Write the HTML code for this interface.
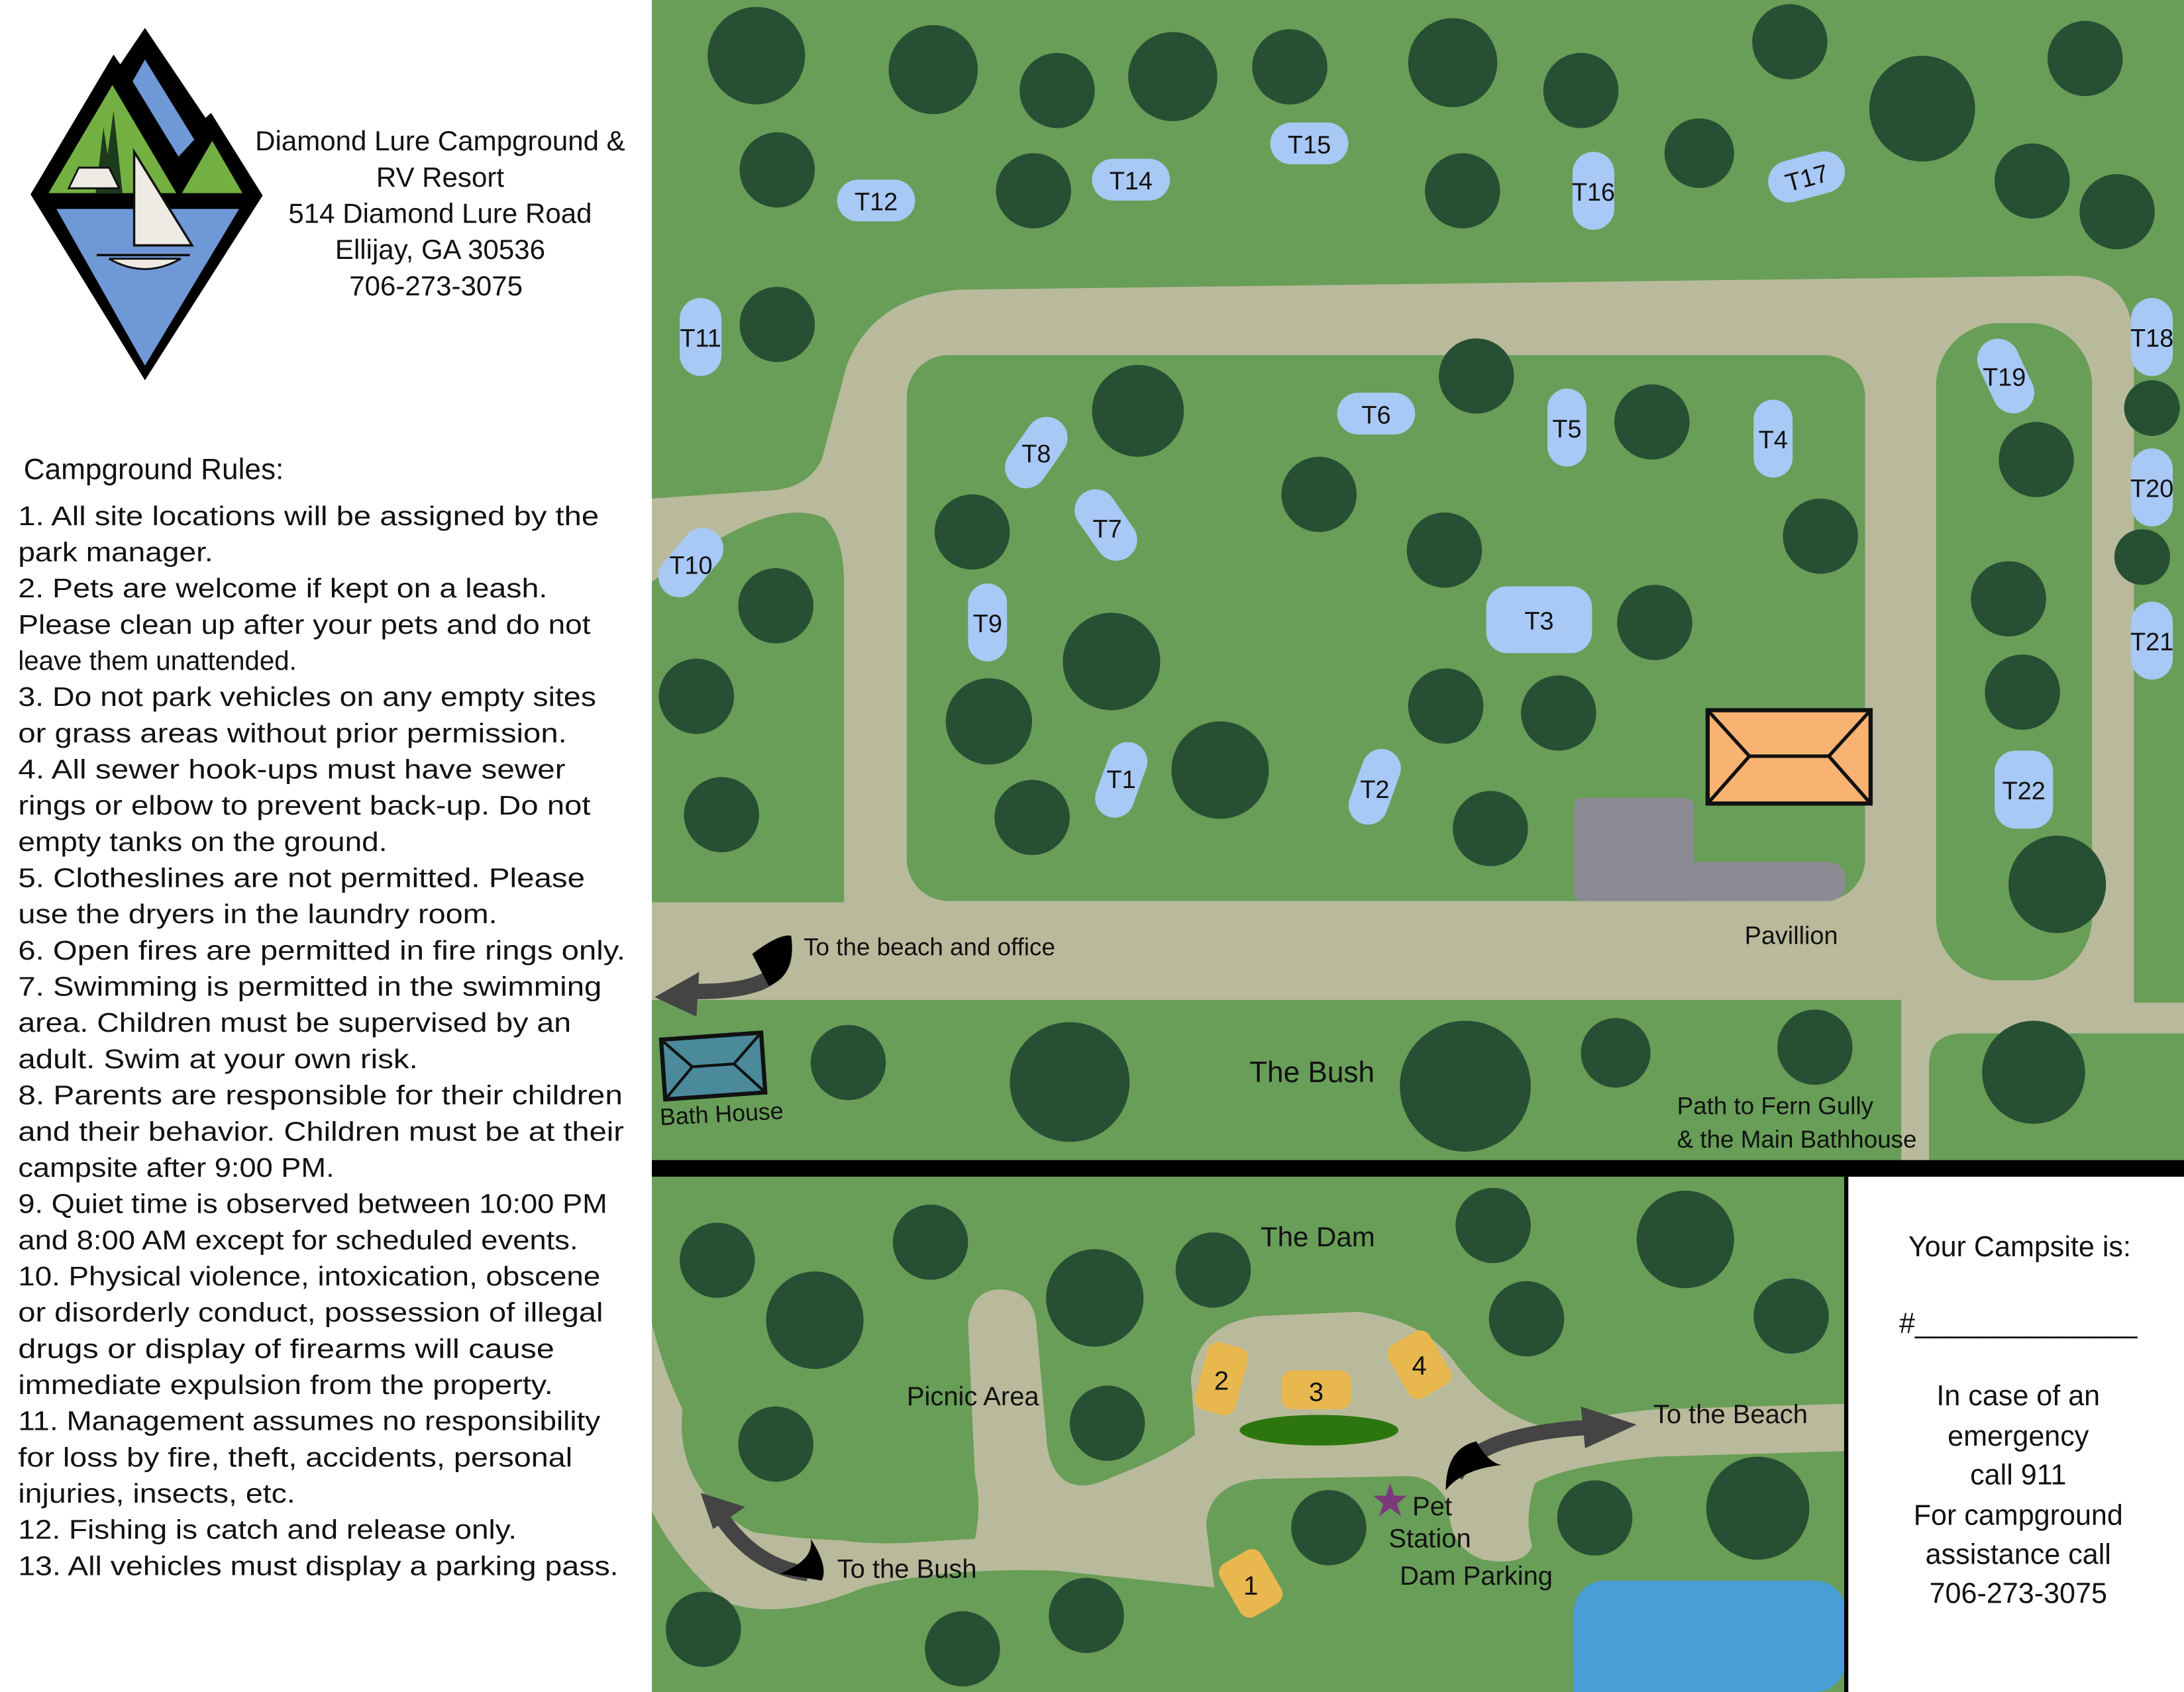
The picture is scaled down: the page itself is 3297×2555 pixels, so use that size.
<!DOCTYPE html>
<html><head><meta charset="utf-8"><style>
html,body{margin:0;padding:0;background:#fff;}
svg{display:block;}
text{font-family:"Liberation Sans",sans-serif;fill:#111;}
</style></head><body>
<svg width="3297" height="2555" viewBox="0 0 1568 1215" preserveAspectRatio="none" xmlns="http://www.w3.org/2000/svg">
<rect width="1568" height="1215" fill="#fff"/>

<!-- LOGO -->
<g transform="translate(-2.2,11.3) scale(0.161,0.1745)">
<polygon points="150,735 520,160 550,200 660,50 930,420 955,400 1185,740 660,1500" fill="#000"/>
<polygon points="230,730 515,285 800,730" fill="#73b041"/>
<polygon points="605,270 660,180 880,510 810,580" fill="#6f98d6"/>
<polygon points="825,730 960,515 1095,730" fill="#73b041"/>
<polygon points="265,795 1080,795 660,1440" fill="#6f98d6"/>
<polygon points="470,730 520,390 560,730" fill="#1d3a1d"/>
<polygon points="440,730 475,460 520,730" fill="#1d3a1d"/>
<polygon points="320,710 365,625 500,625 545,710" fill="#eeeae4" stroke="#111" stroke-width="8"/>
<polygon points="612,560 612,945 870,945" fill="#eeeae4" stroke="#111" stroke-width="10"/>
<path d="M445,985 H860" stroke="#111" stroke-width="10"/>
<path d="M500,1000 Q660,1085 820,1000 Z" fill="#eeeae4" stroke="#111" stroke-width="8"/>
</g>

<g font-size="20" text-anchor="middle">
<text x="316" y="108">Diamond Lure Campground &amp;</text>
<text x="316" y="134">RV Resort</text>
<text x="316" y="160">514 Diamond Lure Road</text>
<text x="316" y="186">Ellijay, GA 30536</text>
<text x="313" y="212">706-273-3075</text>
</g>

<text x="17" y="344" font-size="21">Campground Rules:</text>
<g font-size="19.5" lengthAdjust="spacingAndGlyphs">
<text x="13" y="377" textLength="417" lengthAdjust="spacingAndGlyphs">1.  All site locations will be assigned by the</text>
<text x="13" y="403" textLength="140" lengthAdjust="spacingAndGlyphs">park manager.</text>
<text x="13" y="429" textLength="380" lengthAdjust="spacingAndGlyphs">2.  Pets are welcome if kept on a leash.</text>
<text x="13" y="455" textLength="411" lengthAdjust="spacingAndGlyphs">Please clean up after your pets and do not</text>
<text x="13" y="481" textLength="200" lengthAdjust="spacingAndGlyphs">leave them unattended.</text>
<text x="13" y="507" textLength="415" lengthAdjust="spacingAndGlyphs">3.  Do not park vehicles on any empty sites</text>
<text x="13" y="533" textLength="394" lengthAdjust="spacingAndGlyphs">or grass areas without prior permission.</text>
<text x="13" y="559" textLength="393" lengthAdjust="spacingAndGlyphs">4.  All sewer hook-ups must have sewer</text>
<text x="13" y="585" textLength="411" lengthAdjust="spacingAndGlyphs">rings or elbow to prevent back-up.  Do not</text>
<text x="13" y="611" textLength="265" lengthAdjust="spacingAndGlyphs">empty tanks on the ground.</text>
<text x="13" y="637" textLength="407" lengthAdjust="spacingAndGlyphs">5.  Clotheslines are not permitted.  Please</text>
<text x="13" y="663" textLength="344" lengthAdjust="spacingAndGlyphs">use the dryers in the laundry room.</text>
<text x="13" y="689" textLength="436" lengthAdjust="spacingAndGlyphs">6.  Open fires are permitted in fire rings only.</text>
<text x="13" y="715" textLength="419" lengthAdjust="spacingAndGlyphs">7.  Swimming is permitted in the swimming</text>
<text x="13" y="741" textLength="397" lengthAdjust="spacingAndGlyphs">area.  Children must be supervised by an</text>
<text x="13" y="767" textLength="287" lengthAdjust="spacingAndGlyphs">adult.  Swim at your own risk.</text>
<text x="13" y="793" textLength="434" lengthAdjust="spacingAndGlyphs">8.  Parents are responsible for their children</text>
<text x="13" y="819" textLength="435" lengthAdjust="spacingAndGlyphs">and their behavior.  Children must be at their</text>
<text x="13" y="845" textLength="227" lengthAdjust="spacingAndGlyphs">campsite after 9:00 PM.</text>
<text x="13" y="871" textLength="423" lengthAdjust="spacingAndGlyphs">9.  Quiet time is observed between 10:00 PM</text>
<text x="13" y="897" textLength="402" lengthAdjust="spacingAndGlyphs">and 8:00 AM except for scheduled events.</text>
<text x="13" y="923" textLength="418" lengthAdjust="spacingAndGlyphs">10.  Physical violence, intoxication, obscene</text>
<text x="13" y="949" textLength="420" lengthAdjust="spacingAndGlyphs">or disorderly conduct, possession of illegal</text>
<text x="13" y="975" textLength="385" lengthAdjust="spacingAndGlyphs">drugs or display of firearms will cause</text>
<text x="13" y="1001" textLength="384" lengthAdjust="spacingAndGlyphs">immediate expulsion from the property.</text>
<text x="13" y="1027" textLength="418" lengthAdjust="spacingAndGlyphs">11.  Management assumes no responsibility</text>
<text x="13" y="1053" textLength="398" lengthAdjust="spacingAndGlyphs">for loss by fire, theft, accidents, personal</text>
<text x="13" y="1079" textLength="199" lengthAdjust="spacingAndGlyphs">injuries, insects, etc.</text>
<text x="13" y="1105" textLength="358" lengthAdjust="spacingAndGlyphs">12.  Fishing is catch and release only.</text>
<text x="13" y="1131" textLength="431" lengthAdjust="spacingAndGlyphs">13.  All vehicles must display a parking pass.</text>
</g>

<!-- TOP MAP -->
<rect x="468" y="0" width="1100" height="833" fill="#b9ba9b"/>
<g fill="#689e58">
<path d="M468,0 H1568 V720 H1532 V245 Q1530,200 1490,198 L690,208 Q628,212 608,262 L590,330 Q580,350 555,352 L468,358 Z"/>
<path d="M468,418 Q490,400 520,385 Q565,360 592,372 Q606,385 606,420 L606,648 L468,648 Z"/>
<rect x="651" y="255" width="688" height="392" rx="30"/>
<rect x="1390" y="232" width="112" height="472" rx="45"/>
<rect x="468" y="718" width="897" height="115"/>
<path d="M1385,833 V765 Q1385,742 1410,742 H1568 V833 Z"/>
</g>
<rect x="1130" y="573" width="86" height="74" rx="6" fill="#8c8b94"/>
<rect x="1130" y="619" width="195" height="28" rx="12" fill="#8c8b94"/>

<g fill="#274f33">
<circle cx="543" cy="40" r="35"/><circle cx="670" cy="50" r="32"/><circle cx="759" cy="65" r="27"/><circle cx="842" cy="55" r="32"/><circle cx="926" cy="48" r="27"/><circle cx="1043" cy="45" r="32"/><circle cx="1135" cy="65" r="27"/><circle cx="1220" cy="110" r="25"/><circle cx="1285" cy="30" r="27"/><circle cx="1380" cy="78" r="38"/><circle cx="1497" cy="42" r="27"/><circle cx="558" cy="122" r="27"/><circle cx="742" cy="137" r="27"/><circle cx="1050" cy="137" r="27"/><circle cx="1459" cy="130" r="27"/><circle cx="1520" cy="152" r="27"/>
<circle cx="558" cy="233" r="27"/><circle cx="817" cy="295" r="33"/><circle cx="1060" cy="270" r="27"/><circle cx="1186" cy="303" r="27"/><circle cx="947" cy="355" r="27"/><circle cx="1037" cy="395" r="27"/><circle cx="1307" cy="385" r="27"/><circle cx="1462" cy="330" r="27"/><circle cx="1545" cy="293" r="20"/><circle cx="698" cy="382" r="27"/><circle cx="557" cy="435" r="27"/><circle cx="1188" cy="447" r="27"/><circle cx="1442" cy="430" r="27"/><circle cx="1538" cy="400" r="20"/><circle cx="500" cy="500" r="27"/><circle cx="710" cy="518" r="31"/><circle cx="798" cy="475" r="35"/><circle cx="1038" cy="507" r="27"/><circle cx="1119" cy="512" r="27"/><circle cx="1452" cy="497" r="27"/><circle cx="876" cy="553" r="35"/><circle cx="518" cy="585" r="27"/><circle cx="741" cy="587" r="27"/><circle cx="1070" cy="595" r="27"/><circle cx="1477" cy="635" r="35"/>
<circle cx="609" cy="763" r="27"/><circle cx="768" cy="777" r="43"/><circle cx="1052" cy="780" r="47"/><circle cx="1160" cy="756" r="25"/><circle cx="1303" cy="752" r="27"/><circle cx="1460" cy="770" r="37"/>
</g>

<!-- pavilion -->
<rect x="1226" y="510" width="117" height="67" fill="#f8b271" stroke="#111" stroke-width="3"/>
<path d="M1226,510 L1256,543 L1226,577 M1343,510 L1313,543 L1343,577 M1256,543 H1313" stroke="#111" stroke-width="2.5" fill="none"/>
<text x="1286" y="678" font-size="18" text-anchor="middle">Pavillion</text>
<!-- bath house -->
<g transform="rotate(-4 512 765)">
<rect x="476" y="744" width="72" height="43" fill="#4a8a9a" stroke="#111" stroke-width="3"/>
<path d="M476,744 L497,765 L476,787 M548,744 L527,765 L548,787 M497,765 H527" stroke="#111" stroke-width="2" fill="none"/>
</g>
<text x="474" y="808" font-size="17" transform="rotate(-3 474 808)">Bath House</text>

<!-- sites -->
<g fill="#a8c8f5" font-size="18">
<g transform="translate(940,103)"><rect x="-28" y="-15" width="56" height="30" rx="15"/><text y="7" text-anchor="middle">T15</text></g>
<g transform="translate(812,129)"><rect x="-28" y="-15" width="56" height="30" rx="15"/><text y="7" text-anchor="middle">T14</text></g>
<g transform="translate(629,144)"><rect x="-28" y="-15" width="56" height="30" rx="15"/><text y="7" text-anchor="middle">T12</text></g>
<g transform="translate(1144,137)"><rect x="-15" y="-28" width="30" height="56" rx="15"/><text y="7" text-anchor="middle">T16</text></g>
<g transform="translate(1297,127) rotate(-15)"><rect x="-28" y="-15" width="56" height="30" rx="15"/><text y="7" text-anchor="middle">T17</text></g>
<g transform="translate(503,242)"><rect x="-15" y="-28" width="30" height="56" rx="15"/><text y="7" text-anchor="middle">T11</text></g>
<g transform="translate(1545,242)"><rect x="-15" y="-28" width="30" height="56" rx="15"/><text y="7" text-anchor="middle">T18</text></g>
<g transform="translate(1440,270) rotate(-25)"><rect x="-15" y="-28" width="30" height="56" rx="15"/></g><text x="1439" y="277" text-anchor="middle">T19</text>
<g transform="translate(988,297)"><rect x="-28" y="-15" width="56" height="30" rx="15"/><text y="7" text-anchor="middle">T6</text></g>
<g transform="translate(1125,307)"><rect x="-14" y="-28" width="28" height="56" rx="14"/><text y="7" text-anchor="middle">T5</text></g>
<g transform="translate(1273,315)"><rect x="-14" y="-28" width="28" height="56" rx="14"/><text y="7" text-anchor="middle">T4</text></g>
<g transform="translate(744,325) rotate(-55)"><rect x="-28" y="-15" width="56" height="30" rx="15"/></g><text x="744" y="332" text-anchor="middle">T8</text>
<g transform="translate(794,377) rotate(55)"><rect x="-28" y="-15" width="56" height="30" rx="15"/></g><text x="795" y="386" text-anchor="middle">T7</text>
<g transform="translate(496,404) rotate(-50)"><rect x="-28" y="-15" width="56" height="30" rx="15"/></g><text x="496" y="412" text-anchor="middle">T10</text>
<g transform="translate(709,447)"><rect x="-14" y="-28" width="28" height="56" rx="14"/><text y="7" text-anchor="middle">T9</text></g>
<g transform="translate(1105,445)"><rect x="-38" y="-24" width="76" height="48" rx="15"/><text y="7" text-anchor="middle">T3</text></g>
<g transform="translate(1545,350)"><rect x="-15" y="-28" width="30" height="56" rx="15"/><text y="7" text-anchor="middle">T20</text></g>
<g transform="translate(1545,460)"><rect x="-15" y="-28" width="30" height="56" rx="15"/><text y="7" text-anchor="middle">T21</text></g>
<g transform="translate(805,560) rotate(20)"><rect x="-14" y="-28" width="28" height="56" rx="14"/></g><text x="805" y="566" text-anchor="middle">T1</text>
<g transform="translate(987,565) rotate(20)"><rect x="-14" y="-28" width="28" height="56" rx="14"/></g><text x="987" y="573" text-anchor="middle">T2</text>
<g transform="translate(1453,567)"><rect x="-21" y="-28" width="42" height="56" rx="15"/><text y="7" text-anchor="middle">T22</text></g>
</g>

<!-- top labels -->
<text x="577" y="686" font-size="17.5">To the beach and office</text>
<text x="897" y="777" font-size="21">The Bush</text>
<text x="1204" y="800" font-size="17.5">Path to Fern Gully</text>
<text x="1204" y="824" font-size="17.5">&amp; the Main Bathhouse</text>
<!-- arrow top-left -->
<path d="M560,678 Q570,712 500,712" stroke="#444" stroke-width="11" fill="none"/>
<path d="M540,685 Q560,670 568,672 Q572,700 552,708 Z" fill="#000"/>
<polygon points="470,716 502,698 500,730" fill="#444"/>

<!-- divider -->
<rect x="468" y="833" width="1100" height="12" fill="#000"/>

<!-- BOTTOM MAP -->
<rect x="468" y="845" width="857" height="370" fill="#689e58"/>
<g fill="#b9ba9b">
<path d="M468,950 C480,1000 505,1050 540,1080 C560,1100 600,1110 650,1108 L700,1105 Q705,1080 700,1060 L695,950 Q698,925 720,926 Q742,928 744,950 L752,1040 Q760,1080 800,1060 Q840,1045 858,1030 L855,990 Q860,950 905,945 L975,942 Q1020,948 1042,975 Q1070,1015 1110,1025 Q1150,1015 1190,1012 L1325,1008 L1325,1042 L1190,1046 Q1125,1052 1102,1065 Q1094,1090 1100,1110 Q1095,1125 1065,1120 Q1040,1112 1040,1080 Q1030,1060 1010,1060 L905,1062 Q868,1065 866,1095 Q870,1128 872,1140 L760,1128 Q680,1125 620,1140 Q560,1165 520,1150 Q485,1120 468,1085 Z"/>
</g>
<path d="M490,1012 Q484,1070 540,1100 Q600,1110 690,1105 L692,1030 Q680,1012 648,1012 Z" fill="#689e58"/>
<rect x="1130" y="1135" width="195" height="80" rx="22" fill="#4a9ed6"/>
<path d="M1130,1160 V1215 H1160 Z" fill="#4a9ed6"/>
<g fill="#274f33">
<circle cx="515" cy="905" r="27"/><circle cx="668" cy="892" r="27"/><circle cx="585" cy="948" r="35"/><circle cx="786" cy="932" r="35"/><circle cx="871" cy="912" r="27"/><circle cx="1072" cy="880" r="27"/><circle cx="1210" cy="890" r="35"/><circle cx="1096" cy="947" r="27"/><circle cx="1286" cy="945" r="27"/><circle cx="795" cy="1022" r="27"/><circle cx="557" cy="1037" r="27"/><circle cx="954" cy="1097" r="27"/><circle cx="1145" cy="1090" r="27"/><circle cx="1262" cy="1083" r="37"/><circle cx="505" cy="1170" r="27"/><circle cx="691" cy="1184" r="27"/><circle cx="780" cy="1160" r="27"/>
</g>
<ellipse cx="947" cy="1027" rx="57" ry="11" fill="#2d760f"/>
<g fill="#e8b84f" font-size="19">
<g transform="translate(898,1137) rotate(-30)"><rect x="-17" y="-22" width="34" height="44" rx="8"/></g><text x="898" y="1145" text-anchor="middle">1</text>
<g transform="translate(877,990) rotate(15)"><rect x="-15" y="-25" width="30" height="50" rx="8"/></g><text x="877" y="998" text-anchor="middle">2</text>
<g transform="translate(945,998)"><rect x="-25" y="-14" width="50" height="28" rx="8"/></g><text x="945" y="1006" text-anchor="middle">3</text>
<g transform="translate(1019,980) rotate(-30)"><rect x="-17" y="-22" width="34" height="44" rx="8"/></g><text x="1019" y="987" text-anchor="middle">4</text>
</g>
<polygon points="998,1065 1001,1074 1010,1074 1003,1080 1006,1089 998,1083 990,1089 993,1080 986,1074 995,1074" fill="#7a3a7a"/>

<g font-size="19">
<text x="905" y="895" font-size="20">The Dam</text>
<text x="651" y="1009">Picnic Area</text>
<text x="1187" y="1022">To the Beach</text>
<text x="1014" y="1088">Pet</text>
<text x="997" y="1111">Station</text>
<text x="1005" y="1138">Dam Parking</text>
<text x="601" y="1133">To the Bush</text>
</g>
<!-- arrows bottom -->
<path d="M580,1130 Q540,1125 515,1085" stroke="#444" stroke-width="11" fill="none"/>
<polygon points="503,1072 535,1082 512,1098" fill="#444"/>
<path d="M560,1130 Q585,1120 582,1105 Q595,1125 590,1135 Z" fill="#000"/>
<path d="M1045,1060 Q1060,1030 1140,1025" stroke="#444" stroke-width="11" fill="none"/>
<polygon points="1175,1023 1135,1010 1138,1040" fill="#444"/>
<path d="M1038,1070 Q1038,1040 1060,1035 Q1068,1050 1078,1052 Q1050,1055 1038,1070 Z" fill="#000"/>

<!-- right panel -->
<rect x="1325" y="845" width="243" height="370" fill="#fff"/>
<rect x="1324" y="845" width="3" height="370" fill="#000"/>
<g font-size="20.5" text-anchor="middle">
<text x="1450" y="902">Your Campsite is:</text>
<text x="1449" y="957">#______________</text>
<text x="1449" y="1009">In case of an</text>
<text x="1449" y="1038">emergency</text>
<text x="1449" y="1066">call 911</text>
<text x="1449" y="1095">For campground</text>
<text x="1449" y="1123">assistance call</text>
<text x="1449" y="1151">706-273-3075</text>
</g>
</svg>
</body></html>
